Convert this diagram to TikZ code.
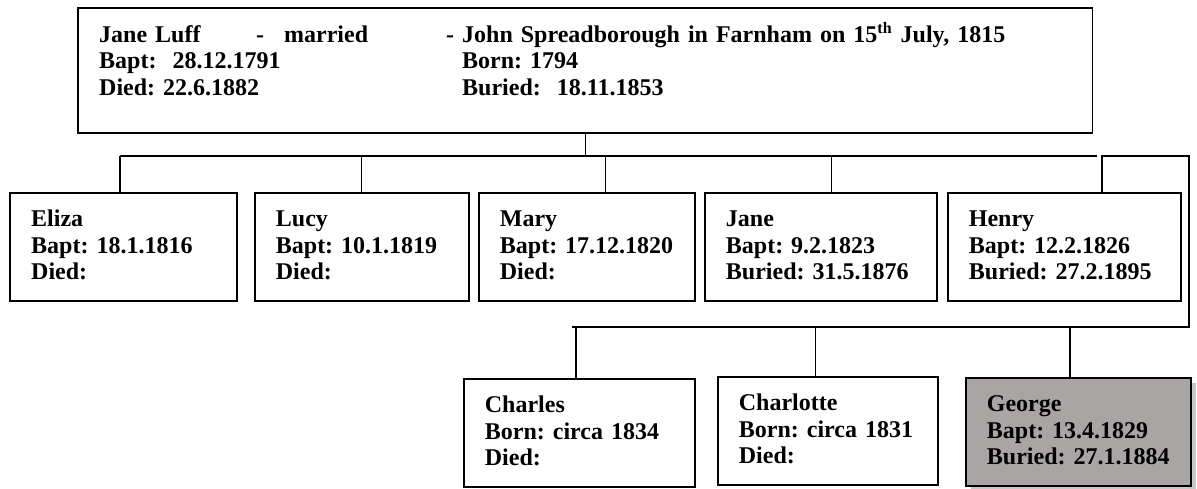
\documentclass[tikz,border=0pt]{standalone}
\usepackage{fontspec}
\setmainfont{Liberation Serif}
\usetikzlibrary{positioning,shadows,calc}
\frenchspacing

\definecolor{georgegray}{RGB}{168,165,164}

\begin{document}
\begin{tikzpicture}[
    x=0.5pt, y=-0.5pt,
    % Node styles
    every node/.style={font=\fontsize{12}{13.2}\selectfont\bfseries},
    person/.style={draw, rectangle, line width=0.9pt, anchor=north west, align=left,
                   inner xsep=10.5pt, inner ysep=8pt, text height=9pt, text depth=29pt},
    couple/.style={person, text depth=37.2pt},
    key_person/.style={person, fill=georgegray,
                       drop shadow={shadow xshift=2.5pt, shadow yshift=-2.5pt,
                                    fill=black!22, opacity=1}},
    link/.style={draw, line width=0.8pt}
]
\useasboundingbox (0,0) rectangle (1197,488);

% Parents
\node[couple, text width=486.1pt] (parents) at (77.3,7.3) {%
    \makebox[78.5pt][l]{Jane Luff}\makebox[14pt][l]{-}\makebox[81pt][l]{married}\makebox[8pt][l]{-}John Spreadborough in Farnham on 15\textsuperscript{th} July, 1815\\
    \makebox[181.5pt][l]{Bapt:\ \ 28.12.1791}Born: 1794\\
    \makebox[181.5pt][l]{Died: 22.6.1882}Buried:\ \ 18.11.1853};

% Children - first row
\node[person, text width=92.5pt] (eliza) at (9.3,192) {Eliza\\Bapt: 18.1.1816\\Died:};
\node[person, text width=86pt] (lucy) at (254,192) {Lucy\\Bapt: 10.1.1819\\Died:};
\node[person, text width=87pt] (mary) at (478,192) {Mary\\Bapt: 17.12.1820\\Died:};
\node[person, text width=95pt] (jane) at (704,192) {Jane\\Bapt: 9.2.1823\\Buried: 31.5.1876};
\node[person, text width=95.5pt] (henry) at (947,192) {Henry\\Bapt: 12.2.1826\\Buried: 27.2.1895};

% Children - second row
\node[person, text width=94.5pt] (charles) at (463,377.7) {Charles\\Born: circa 1834\\Died:};
\node[person, text width=89pt] (charlotte) at (717,375.7) {Charlotte\\Born: circa 1831\\Died:};
\node[key_person, text width=91.5pt] (george) at (965,377) {George\\Bapt: 13.4.1829\\Buried: 27.1.1884};

% Connectors
\coordinate (bar_l) at (119.8,156);
\coordinate (bar_r) at (1097,156);
\draw[link] (parents.south) -- (parents.south |- bar_l);
\draw[link] (bar_l) -- (bar_r);
\foreach \who/\x in {eliza/119.8, lucy/361.6, mary/605.5, jane/831.6}
    \draw[link] (\x,156) -- (\x,156 |- \who.north);

\coordinate (br_top) at (1189,156);
\coordinate (br_bot) at (1189,327);
\coordinate (br_end) at (572,327);
\draw[link] (1102,156 |- henry.north) -- (1102,156) -- (br_top) -- (br_bot) -- (br_end);
\foreach \who/\x in {charles/575.7, charlotte/815.6, george/1070}
    \draw[link] (\x,327) -- (\x,327 |- \who.north);

\end{tikzpicture}
\end{document}
